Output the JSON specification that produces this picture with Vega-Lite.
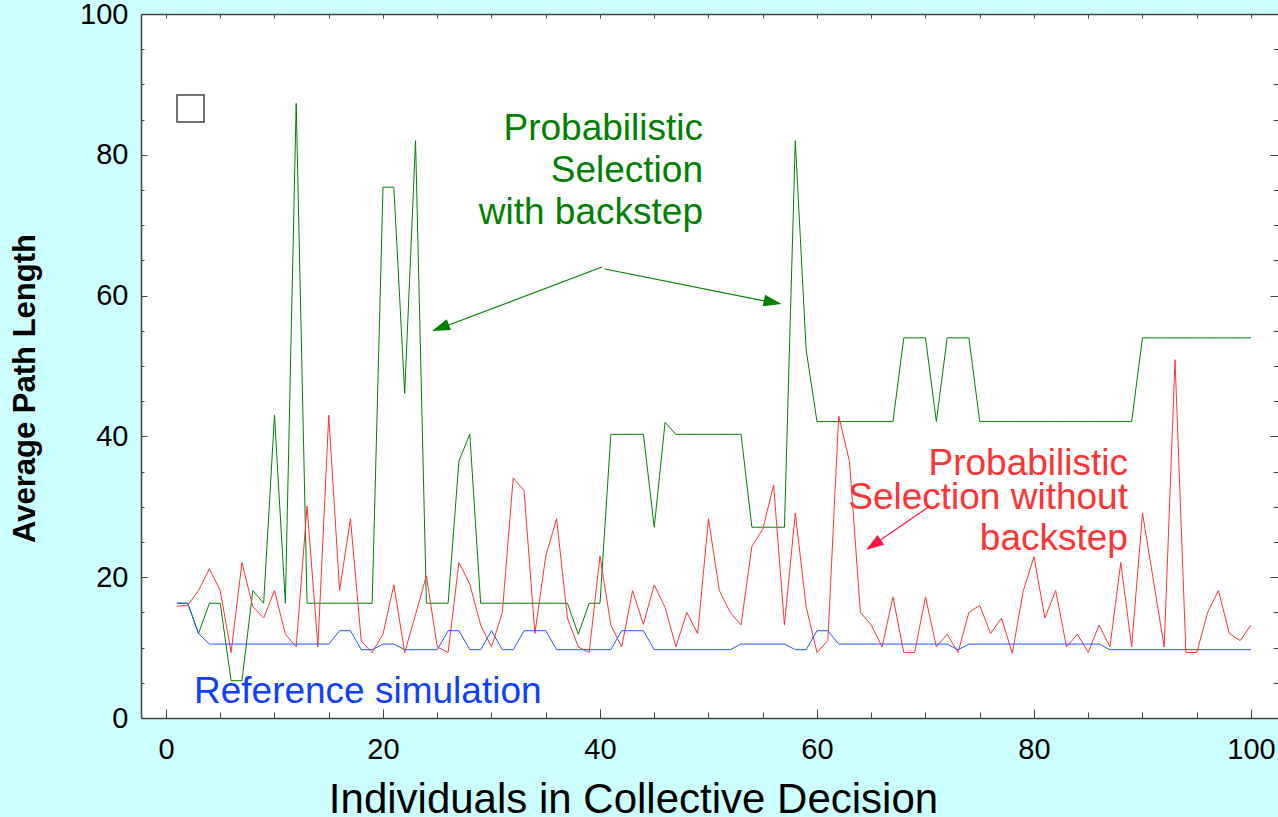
{
  "$schema": "https://vega.github.io/schema/vega-lite/v6.json",
  "width": 1137,
  "height": 704,
  "autosize": {"type": "none"},
  "padding": {"left": 141, "top": 14, "right": 0, "bottom": 99},
  "background": "#ccffff",
  "config": {
    "view": {"fill": "white", "stroke": null},
    "font": "Liberation Sans",
    "axis": {"grid": false, "domainColor": "#444", "tickColor": "#444", "labelColor": "black", "titleColor": "black", "labelFont": "Liberation Sans", "titleFont": "Liberation Sans", "domainWidth": 1.5, "tickWidth": 1}
  },
  "resolve": {"axis": {"x": "independent", "y": "independent"}},
  "datasets": {
    "series": [
      {"n":1,"s":"g","v":16.3},{"n":2,"s":"g","v":16.3},{"n":3,"s":"g","v":12.0},{"n":4,"s":"g","v":16.3},{"n":5,"s":"g","v":16.3},
      {"n":6,"s":"g","v":5.3},{"n":7,"s":"g","v":5.3},{"n":8,"s":"g","v":18.1},{"n":9,"s":"g","v":16.3},{"n":10,"s":"g","v":43.0},
      {"n":11,"s":"g","v":16.3},{"n":12,"s":"g","v":87.3},{"n":13,"s":"g","v":16.3},{"n":14,"s":"g","v":16.3},{"n":15,"s":"g","v":16.3},
      {"n":16,"s":"g","v":16.3},{"n":17,"s":"g","v":16.3},{"n":18,"s":"g","v":16.3},{"n":19,"s":"g","v":16.3},{"n":20,"s":"g","v":75.4},
      {"n":21,"s":"g","v":75.4},{"n":22,"s":"g","v":46.1},{"n":23,"s":"g","v":82.0},{"n":24,"s":"g","v":16.3},{"n":25,"s":"g","v":16.3},
      {"n":26,"s":"g","v":16.3},{"n":27,"s":"g","v":36.5},{"n":28,"s":"g","v":40.3},{"n":29,"s":"g","v":16.3},{"n":30,"s":"g","v":16.3},
      {"n":31,"s":"g","v":16.3},{"n":32,"s":"g","v":16.3},{"n":33,"s":"g","v":16.3},{"n":34,"s":"g","v":16.3},{"n":35,"s":"g","v":16.3},
      {"n":36,"s":"g","v":16.3},{"n":37,"s":"g","v":16.3},{"n":38,"s":"g","v":11.9},{"n":39,"s":"g","v":16.3},{"n":40,"s":"g","v":16.3},
      {"n":41,"s":"g","v":40.3},{"n":42,"s":"g","v":40.3},{"n":43,"s":"g","v":40.3},{"n":44,"s":"g","v":40.3},{"n":45,"s":"g","v":27.1},
      {"n":46,"s":"g","v":42.0},{"n":47,"s":"g","v":40.3},{"n":48,"s":"g","v":40.3},{"n":49,"s":"g","v":40.3},{"n":50,"s":"g","v":40.3},
      {"n":51,"s":"g","v":40.3},{"n":52,"s":"g","v":40.3},{"n":53,"s":"g","v":40.3},{"n":54,"s":"g","v":27.1},{"n":55,"s":"g","v":27.1},
      {"n":56,"s":"g","v":27.1},{"n":57,"s":"g","v":27.1},{"n":58,"s":"g","v":82.0},{"n":59,"s":"g","v":52.3},{"n":60,"s":"g","v":42.1},
      {"n":61,"s":"g","v":42.1},{"n":62,"s":"g","v":42.1},{"n":63,"s":"g","v":42.1},{"n":64,"s":"g","v":42.1},{"n":65,"s":"g","v":42.1},
      {"n":66,"s":"g","v":42.1},{"n":67,"s":"g","v":42.1},{"n":68,"s":"g","v":54.0},{"n":69,"s":"g","v":54.0},{"n":70,"s":"g","v":54.0},
      {"n":71,"s":"g","v":42.1},{"n":72,"s":"g","v":54.0},{"n":73,"s":"g","v":54.0},{"n":74,"s":"g","v":54.0},{"n":75,"s":"g","v":42.1},
      {"n":76,"s":"g","v":42.1},{"n":77,"s":"g","v":42.1},{"n":78,"s":"g","v":42.1},{"n":79,"s":"g","v":42.1},{"n":80,"s":"g","v":42.1},
      {"n":81,"s":"g","v":42.1},{"n":82,"s":"g","v":42.1},{"n":83,"s":"g","v":42.1},{"n":84,"s":"g","v":42.1},{"n":85,"s":"g","v":42.1},
      {"n":86,"s":"g","v":42.1},{"n":87,"s":"g","v":42.1},{"n":88,"s":"g","v":42.1},{"n":89,"s":"g","v":42.1},{"n":90,"s":"g","v":54.0},
      {"n":91,"s":"g","v":54.0},{"n":92,"s":"g","v":54.0},{"n":93,"s":"g","v":54.0},{"n":94,"s":"g","v":54.0},{"n":95,"s":"g","v":54.0},
      {"n":96,"s":"g","v":54.0},{"n":97,"s":"g","v":54.0},{"n":98,"s":"g","v":54.0},{"n":99,"s":"g","v":54.0},{"n":100,"s":"g","v":54.0},

      {"n":1,"s":"r","v":15.9},{"n":2,"s":"r","v":16.0},{"n":3,"s":"r","v":18.1},{"n":4,"s":"r","v":21.2},{"n":5,"s":"r","v":18.1},
      {"n":6,"s":"r","v":9.3},{"n":7,"s":"r","v":22.1},{"n":8,"s":"r","v":15.8},{"n":9,"s":"r","v":14.2},{"n":10,"s":"r","v":18.1},
      {"n":11,"s":"r","v":11.9},{"n":12,"s":"r","v":10.1},{"n":13,"s":"r","v":30.1},{"n":14,"s":"r","v":10.1},{"n":15,"s":"r","v":43.0},
      {"n":16,"s":"r","v":18.1},{"n":17,"s":"r","v":28.3},{"n":18,"s":"r","v":10.9},{"n":19,"s":"r","v":9.3},{"n":20,"s":"r","v":11.9},
      {"n":21,"s":"r","v":18.9},{"n":22,"s":"r","v":9.3},{"n":23,"s":"r","v":14.7},{"n":24,"s":"r","v":20.2},{"n":25,"s":"r","v":10.1},
      {"n":26,"s":"r","v":9.3},{"n":27,"s":"r","v":22.1},{"n":28,"s":"r","v":19.0},{"n":29,"s":"r","v":13.2},{"n":30,"s":"r","v":10.1},
      {"n":31,"s":"r","v":15.0},{"n":32,"s":"r","v":34.1},{"n":33,"s":"r","v":32.3},{"n":34,"s":"r","v":12.0},{"n":35,"s":"r","v":23.0},
      {"n":36,"s":"r","v":28.3},{"n":37,"s":"r","v":14.2},{"n":38,"s":"r","v":10.1},{"n":39,"s":"r","v":9.3},{"n":40,"s":"r","v":23.0},
      {"n":41,"s":"r","v":13.2},{"n":42,"s":"r","v":10.1},{"n":43,"s":"r","v":18.1},{"n":44,"s":"r","v":13.3},{"n":45,"s":"r","v":18.9},
      {"n":46,"s":"r","v":15.7},{"n":47,"s":"r","v":10.1},{"n":48,"s":"r","v":15.0},{"n":49,"s":"r","v":12.0},{"n":50,"s":"r","v":28.3},
      {"n":51,"s":"r","v":18.1},{"n":52,"s":"r","v":15.0},{"n":53,"s":"r","v":13.2},{"n":54,"s":"r","v":24.4},{"n":55,"s":"r","v":26.8},
      {"n":56,"s":"r","v":33.1},{"n":57,"s":"r","v":13.2},{"n":58,"s":"r","v":29.1},{"n":59,"s":"r","v":15.8},{"n":60,"s":"r","v":9.3},
      {"n":61,"s":"r","v":11.0},{"n":62,"s":"r","v":42.9},{"n":63,"s":"r","v":36.4},{"n":64,"s":"r","v":15.0},{"n":65,"s":"r","v":13.2},
      {"n":66,"s":"r","v":10.1},{"n":67,"s":"r","v":17.2},{"n":68,"s":"r","v":9.3},{"n":69,"s":"r","v":9.3},{"n":70,"s":"r","v":17.2},
      {"n":71,"s":"r","v":10.1},{"n":72,"s":"r","v":11.9},{"n":73,"s":"r","v":9.3},{"n":74,"s":"r","v":15.0},{"n":75,"s":"r","v":16.0},
      {"n":76,"s":"r","v":12.0},{"n":77,"s":"r","v":14.2},{"n":78,"s":"r","v":9.2},{"n":79,"s":"r","v":18.0},{"n":80,"s":"r","v":22.9},
      {"n":81,"s":"r","v":14.2},{"n":82,"s":"r","v":18.1},{"n":83,"s":"r","v":10.1},{"n":84,"s":"r","v":11.9},{"n":85,"s":"r","v":9.3},
      {"n":86,"s":"r","v":13.2},{"n":87,"s":"r","v":10.1},{"n":88,"s":"r","v":22.1},{"n":89,"s":"r","v":10.1},{"n":90,"s":"r","v":29.1},
      {"n":91,"s":"r","v":19.6},{"n":92,"s":"r","v":10.1},{"n":93,"s":"r","v":50.9},{"n":94,"s":"r","v":9.3},{"n":95,"s":"r","v":9.3},
      {"n":96,"s":"r","v":15.0},{"n":97,"s":"r","v":18.1},{"n":98,"s":"r","v":12.0},{"n":99,"s":"r","v":11.0},{"n":100,"s":"r","v":13.2},

      {"n":1,"s":"b","v":16.3},{"n":2,"s":"b","v":16.3},{"n":3,"s":"b","v":12.0},{"n":4,"s":"b","v":10.5},{"n":5,"s":"b","v":10.5},
      {"n":6,"s":"b","v":10.5},{"n":7,"s":"b","v":10.5},{"n":8,"s":"b","v":10.5},{"n":9,"s":"b","v":10.5},{"n":10,"s":"b","v":10.5},
      {"n":11,"s":"b","v":10.5},{"n":12,"s":"b","v":10.5},{"n":13,"s":"b","v":10.5},{"n":14,"s":"b","v":10.5},{"n":15,"s":"b","v":10.5},
      {"n":16,"s":"b","v":12.4},{"n":17,"s":"b","v":12.4},{"n":18,"s":"b","v":9.7},{"n":19,"s":"b","v":9.7},{"n":20,"s":"b","v":10.5},
      {"n":21,"s":"b","v":10.5},{"n":22,"s":"b","v":9.7},{"n":23,"s":"b","v":9.7},{"n":24,"s":"b","v":9.7},{"n":25,"s":"b","v":9.7},
      {"n":26,"s":"b","v":12.4},{"n":27,"s":"b","v":12.4},{"n":28,"s":"b","v":9.7},{"n":29,"s":"b","v":9.7},{"n":30,"s":"b","v":12.4},
      {"n":31,"s":"b","v":9.7},{"n":32,"s":"b","v":9.7},{"n":33,"s":"b","v":12.4},{"n":34,"s":"b","v":12.4},{"n":35,"s":"b","v":12.4},
      {"n":36,"s":"b","v":9.7},{"n":37,"s":"b","v":9.7},{"n":38,"s":"b","v":9.7},{"n":39,"s":"b","v":9.7},{"n":40,"s":"b","v":9.7},
      {"n":41,"s":"b","v":9.7},{"n":42,"s":"b","v":12.4},{"n":43,"s":"b","v":12.4},{"n":44,"s":"b","v":12.4},{"n":45,"s":"b","v":9.7},
      {"n":46,"s":"b","v":9.7},{"n":47,"s":"b","v":9.7},{"n":48,"s":"b","v":9.7},{"n":49,"s":"b","v":9.7},{"n":50,"s":"b","v":9.7},
      {"n":51,"s":"b","v":9.7},{"n":52,"s":"b","v":9.7},{"n":53,"s":"b","v":10.5},{"n":54,"s":"b","v":10.5},{"n":55,"s":"b","v":10.5},
      {"n":56,"s":"b","v":10.5},{"n":57,"s":"b","v":10.5},{"n":58,"s":"b","v":9.7},{"n":59,"s":"b","v":9.7},{"n":60,"s":"b","v":12.4},
      {"n":61,"s":"b","v":12.4},{"n":62,"s":"b","v":10.5},{"n":63,"s":"b","v":10.5},{"n":64,"s":"b","v":10.5},{"n":65,"s":"b","v":10.5},
      {"n":66,"s":"b","v":10.5},{"n":67,"s":"b","v":10.5},{"n":68,"s":"b","v":10.5},{"n":69,"s":"b","v":10.5},{"n":70,"s":"b","v":10.5},
      {"n":71,"s":"b","v":10.5},{"n":72,"s":"b","v":10.5},{"n":73,"s":"b","v":9.7},{"n":74,"s":"b","v":10.5},{"n":75,"s":"b","v":10.5},
      {"n":76,"s":"b","v":10.5},{"n":77,"s":"b","v":10.5},{"n":78,"s":"b","v":10.5},{"n":79,"s":"b","v":10.5},{"n":80,"s":"b","v":10.5},
      {"n":81,"s":"b","v":10.5},{"n":82,"s":"b","v":10.5},{"n":83,"s":"b","v":10.5},{"n":84,"s":"b","v":10.5},{"n":85,"s":"b","v":10.5},
      {"n":86,"s":"b","v":10.5},{"n":87,"s":"b","v":9.7},{"n":88,"s":"b","v":9.7},{"n":89,"s":"b","v":9.7},{"n":90,"s":"b","v":9.7},
      {"n":91,"s":"b","v":9.7},{"n":92,"s":"b","v":9.7},{"n":93,"s":"b","v":9.7},{"n":94,"s":"b","v":9.7},{"n":95,"s":"b","v":9.7},
      {"n":96,"s":"b","v":9.7},{"n":97,"s":"b","v":9.7},{"n":98,"s":"b","v":9.7},{"n":99,"s":"b","v":9.7},{"n":100,"s":"b","v":9.7}
    ],
    "one": [{}]
  },
  "layer": [
    {
      "data": {"name": "series"},
      "mark": {"type": "line", "strokeWidth": 1},
      "encoding": {
        "x": {
          "field": "n", "type": "quantitative",
          "scale": {"domain": [-2.304, 102.489], "nice": false, "zero": false},
          "axis": {
            "orient": "bottom",
            "values": [0,5,10,15,20,25,30,35,40,45,50,55,60,65,70,75,80,85,90,95,100],
            "labelExpr": "datum.value % 20 === 0 ? datum.label : ''",
            "tickSize": {"condition": {"test": "datum.value % 20 === 0", "value": -9}, "value": -6},
            "labelPadding": 26,
            "labelFontSize": 29,
            "labelFlush": false,
            "labelOverlap": false,
            "title": "Individuals in Collective Decision",
            "titleFontSize": 42,
            "titleFontWeight": "normal",
            "titleX": 492,
            "titleY": 94,
            "titleBaseline": "alphabetic",
            "titleAlign": "center"
          }
        },
        "y": {
          "field": "v", "type": "quantitative",
          "scale": {"domain": [0, 100], "nice": false, "zero": false},
          "axis": {
            "orient": "left",
            "values": [0,5,10,15,20,25,30,35,40,45,50,55,60,65,70,75,80,85,90,95,100],
            "labelExpr": "datum.value % 20 === 0 ? datum.label : ''",
            "tickSize": {"condition": {"test": "datum.value % 20 === 0", "value": -6}, "value": -3},
            "labelPadding": 19,
            "labelFontSize": 29,
            "labelFlush": false,
            "labelOverlap": false,
            "title": "Average Path Length",
            "titleFontSize": 31,
            "titleFontWeight": "bold",
            "titleAngle": 270,
            "titleX": -116,
            "titleY": 374,
            "titleBaseline": "middle",
            "titleAlign": "center"
          }
        },
        "color": {
          "field": "s", "type": "nominal",
          "scale": {"domain": ["g", "r", "b"], "range": ["#008000", "#ff3333", "#2255ff"]},
          "legend": null
        }
      }
    },
    {
      "data": {"name": "one"},
      "mark": {"type": "point", "shape": "square", "filled": false, "size": 729, "color": "#444", "strokeWidth": 1.5, "opacity": 1},
      "encoding": {
        "x": {
          "datum": 2.26, "type": "quantitative",
          "axis": {
            "orient": "top",
            "values": [0,5,10,15,20,25,30,35,40,45,50,55,60,65,70,75,80,85,90,95,100],
            "labels": false,
            "tickSize": -4,
            "title": null
          }
        },
        "y": {
          "datum": 86.58, "type": "quantitative",
          "axis": {
            "orient": "right",
            "values": [0,5,10,15,20,25,30,35,40,45,50,55,60,65,70,75,80,85,90,95,100],
            "labels": false,
            "domain": false,
            "tickSize": {"condition": {"test": "datum.value % 20 === 0", "value": -8}, "value": -5},
            "title": null
          }
        }
      }
    },
    {
      "data": {"name": "one"},
      "layer": [
        {"mark": {"type": "text", "text": "Probabilistic", "align": "right", "baseline": "alphabetic", "fontSize": 37, "color": "#008000"},
         "encoding": {"x": {"datum": 49.49, "type": "quantitative", "axis": null}, "y": {"datum": 82.1, "type": "quantitative", "axis": null}}},
        {"mark": {"type": "text", "text": "Selection", "align": "right", "baseline": "alphabetic", "fontSize": 37, "color": "#008000"},
         "encoding": {"x": {"datum": 49.49, "type": "quantitative", "axis": null}, "y": {"datum": 76.14, "type": "quantitative", "axis": null}}},
        {"mark": {"type": "text", "text": "with backstep", "align": "right", "baseline": "alphabetic", "fontSize": 37, "color": "#008000"},
         "encoding": {"x": {"datum": 49.49, "type": "quantitative", "axis": null}, "y": {"datum": 70.1, "type": "quantitative", "axis": null}}},
        {"mark": {"type": "text", "text": "Probabilistic", "align": "right", "baseline": "alphabetic", "fontSize": 37, "color": "#ff3333"},
         "encoding": {"x": {"datum": 88.66, "type": "quantitative", "axis": null}, "y": {"datum": 34.52, "type": "quantitative", "axis": null}}},
        {"mark": {"type": "text", "text": "Selection without", "align": "right", "baseline": "alphabetic", "fontSize": 37, "color": "#ff3333"},
         "encoding": {"x": {"datum": 88.66, "type": "quantitative", "axis": null}, "y": {"datum": 29.69, "type": "quantitative", "axis": null}}},
        {"mark": {"type": "text", "text": "backstep", "align": "right", "baseline": "alphabetic", "fontSize": 37, "color": "#ff3333"},
         "encoding": {"x": {"datum": 88.66, "type": "quantitative", "axis": null}, "y": {"datum": 23.86, "type": "quantitative", "axis": null}}},
        {"mark": {"type": "text", "text": "Reference simulation", "align": "left", "baseline": "alphabetic", "fontSize": 37, "color": "#1040ff"},
         "encoding": {"x": {"datum": 2.58, "type": "quantitative", "axis": null}, "y": {"datum": 2.17, "type": "quantitative", "axis": null}}},
        {"mark": {"type": "rule", "color": "#008000", "strokeWidth": 1.2},
         "encoding": {"x": {"datum": 40.18, "type": "quantitative", "axis": null}, "y": {"datum": 64.06, "type": "quantitative", "axis": null}, "x2": {"datum": 24.9}, "y2": {"datum": 55.15}}},
        {"mark": {"type": "rule", "color": "#008000", "strokeWidth": 1.2},
         "encoding": {"x": {"datum": 40.46, "type": "quantitative", "axis": null}, "y": {"datum": 63.78, "type": "quantitative", "axis": null}, "x2": {"datum": 56.3}, "y2": {"datum": 58.9}}},
        {"mark": {"type": "rule", "color": "#ff1744", "strokeWidth": 1.2},
         "encoding": {"x": {"datum": 70.41, "type": "quantitative", "axis": null}, "y": {"datum": 30.11, "type": "quantitative", "axis": null}, "x2": {"datum": 64.8}, "y2": {"datum": 24.2}}},
        {"mark": {"type": "point", "shape": "M0,-1L0.65,1L-0.65,1Z", "filled": true, "size": 324, "angle": 249.4, "color": "#008000", "opacity": 1, "strokeWidth": 0},
         "encoding": {"x": {"datum": 25.29, "type": "quantitative", "axis": null}, "y": {"datum": 55.43, "type": "quantitative", "axis": null}}},
        {"mark": {"type": "point", "shape": "M0,-1L0.65,1L-0.65,1Z", "filled": true, "size": 324, "angle": 101.2, "color": "#008000", "opacity": 1, "strokeWidth": 0},
         "encoding": {"x": {"datum": 55.92, "type": "quantitative", "axis": null}, "y": {"datum": 59.06, "type": "quantitative", "axis": null}}},
        {"mark": {"type": "point", "shape": "M0,-1L0.65,1L-0.65,1Z", "filled": true, "size": 324, "angle": 235.6, "color": "#ff1744", "opacity": 1, "strokeWidth": 0},
         "encoding": {"x": {"datum": 65.2, "type": "quantitative", "axis": null}, "y": {"datum": 24.59, "type": "quantitative", "axis": null}}}
      ]
    }
  ]
}
